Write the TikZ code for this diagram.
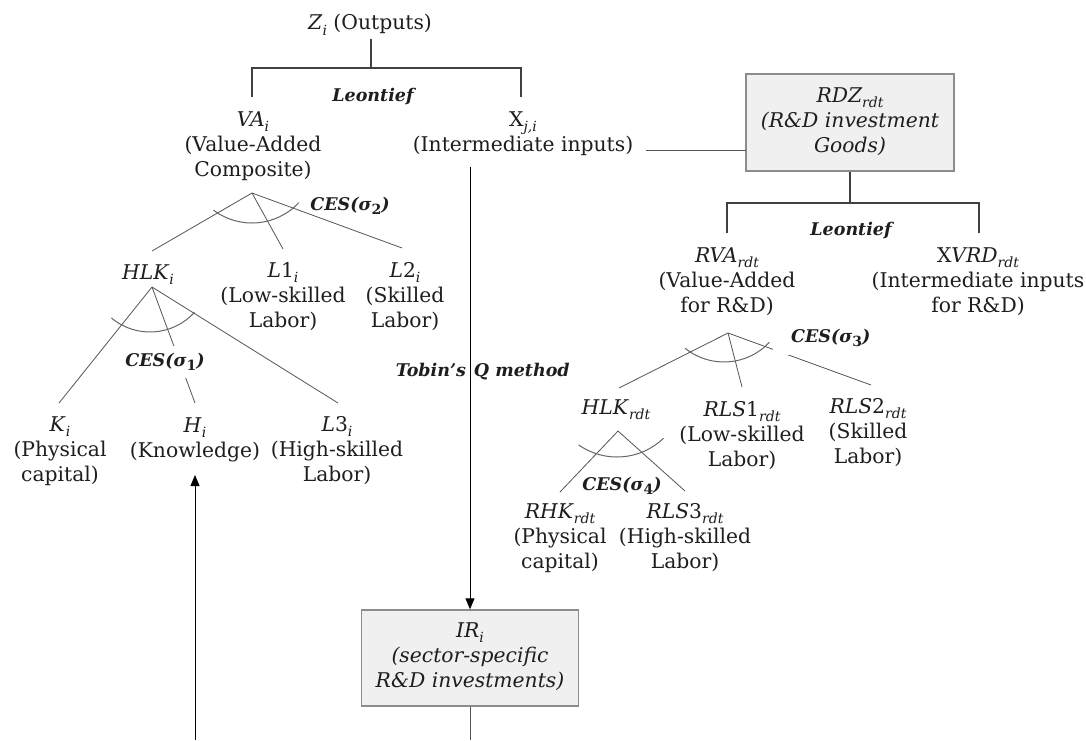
\documentclass[tikz,border=0pt]{standalone}
\usepackage{fontspec}
\setmainfont{DejaVu Serif}
\usetikzlibrary{arrows.meta}
\definecolor{lnc}{HTML}{555555}
\definecolor{barc}{HTML}{404040}
\definecolor{boxfill}{HTML}{F0F0F0}
\definecolor{boxdraw}{HTML}{8C8C8C}
\definecolor{txtc}{HTML}{1E1E1E}
\newcommand\myfs{\fontsize{20.3pt}{25pt}\selectfont}
\newcommand\mylb{\fontsize{17.5pt}{21pt}\selectfont\bfseries\itshape}
\newcommand\stx{\rule[-0.27em]{0pt}{1.0em}}
\newcommand\sbx[1]{\raisebox{-0.25em}{\fontsize{14pt}{14pt}\selectfont #1}}
\newcommand\vv[2]{\textit{#1}\sbx{\textit{#2}}}
\begin{document}
\begin{tikzpicture}[x=1pt,y=-1pt,
 txt/.style={font=\myfs, text=txtc, inner sep=0pt, align=center},
 lbl/.style={font=\mylb, text=txtc, inner sep=0pt},
 cover/.style={lbl, fill=white, inner xsep=2pt, inner ysep=6.5pt},
 tree/.style={draw=lnc, line width=0.8pt},
 bar/.style={draw=barc, line width=1.1pt},
 arr/.style={draw=black, line width=0.9pt, -{Triangle[length=11pt,width=9pt]}},
 arcln/.style={draw=black!60, line width=1.0pt},
 bx/.style={draw=boxdraw, fill=boxfill, line width=1.4pt, align=center, font=\myfs\itshape, text=txtc, inner sep=0pt}]
\useasboundingbox (0,0) rectangle (1086,740);
\fill[white] (0,0) rectangle (1086,740);

% coordinates
\coordinate (zB) at (371,39);
\coordinate (zJ) at (371,68);
\coordinate (vaUp) at (252,97);
\coordinate (xUp) at (521,97);
\coordinate (xOut) at (646,150);
\coordinate (rdzIn) at (746,150);
\coordinate (xDn) at (470,167);
\coordinate (rdzJ) at (850,203);
\coordinate (rvaUp) at (727,233);
\coordinate (xvUp) at (979,233);
\coordinate (vaA) at (252,193);
\coordinate (hlkIn) at (152,251);
\coordinate (l1In) at (283,249);
\coordinate (l2In) at (402,248);
\coordinate (hlkA) at (152,287);
\coordinate (kIn) at (59,403);
\coordinate (hIn) at (195,403);
\coordinate (l3In) at (338,403);
\coordinate (rvaA) at (728,333);
\coordinate (hlkrIn) at (619,388);
\coordinate (rls1In) at (742,387);
\coordinate (rls2In) at (871,385);
\coordinate (hlkrA) at (618,431);
\coordinate (rhkIn) at (560,492);
\coordinate (rls3In) at (685,491);
\coordinate (hBot) at (195,740);
\coordinate (hTip) at (195,475);
\coordinate (irBot) at (470,740);

% text nodes
\node[txt] (z) at (370,25) {\stx\vv{Z}{i} (Outputs)};
\node[txt] (va) at (253,147) {\stx\vv{VA}{i}\\\stx(Value-Added\\\stx Composite)};
\node[txt] (xji) at (523,134.5) {\stx X\sbx{\textit{j,i}}\\\stx(Intermediate inputs)};
\node[bx, minimum width=208pt, minimum height=97pt] (rdz) at (850,122.5) {\stx\vv{RDZ}{rdt}\\\stx(R\&D investment\\\stx Goods)};
\node[txt] (rva) at (727,283) {\stx\vv{RVA}{rdt}\\\stx(Value-Added\\\stx for R\&D)};
\node[txt] (xvrd) at (978,283) {\stx X\textit{VRD}\sbx{\textit{rdt}}\\\stx(Intermediate inputs\\\stx for R\&D)};
\node[txt] (hlk) at (148,275) {\stx\vv{HLK}{i}};
\node[txt] (l1) at (283,298) {\stx\textit{L}1\sbx{\textit{i}}\\\stx(Low-skilled\\\stx Labor)};
\node[txt] (l2) at (405,298) {\stx\textit{L}2\sbx{\textit{i}}\\\stx(Skilled\\\stx Labor)};
\node[txt] (k) at (60,452) {\stx\vv{K}{i}\\\stx(Physical\\\stx capital)};
\node[txt] (h) at (195,440) {\stx\vv{H}{i}\\\stx(Knowledge)};
\node[txt] (l3) at (337,452) {\stx\textit{L}3\sbx{\textit{i}}\\\stx(High-skilled\\\stx Labor)};
\node[txt] (hlkr) at (616,410) {\stx\vv{HLK}{rdt}};
\node[txt] (rls1) at (742,437) {\stx\textit{RLS}1\sbx{\textit{rdt}}\\\stx(Low-skilled\\\stx Labor)};
\node[txt] (rls2) at (868,434) {\stx\textit{RLS}2\sbx{\textit{rdt}}\\\stx(Skilled\\\stx Labor)};
\node[txt] (rhk) at (560,539) {\stx\vv{RHK}{rdt}\\\stx(Physical\\\stx capital)};
\node[txt] (rls3) at (685,539) {\stx\textit{RLS}3\sbx{\textit{rdt}}\\\stx(High-skilled\\\stx Labor)};
\node[bx, minimum width=217pt, minimum height=96pt] (ir) at (470,658) {\stx\vv{IR}{i}\\\stx(sector-specific\\\stx R\&D investments)};

% connectors
\draw[bar] (zB) -- (zJ);
\draw[bar] (vaUp) |- (zJ) -| (xUp);
\draw[tree] (xOut) -- (rdzIn);
\draw[arr] (xDn) -- (ir.north);
\draw[bar] (rdz.south) -- (rdzJ);
\draw[bar] (rvaUp) |- (rdzJ) -| (xvUp);
\draw[tree] (vaA) -- (hlkIn);
\draw[tree] (vaA) -- (l1In);
\draw[tree] (vaA) -- (l2In);
\draw[tree] (hlkA) -- (kIn);
\draw[tree] (hlkA) -- (hIn);
\draw[tree] (hlkA) -- (l3In);
\draw[tree] (rvaA) -- (hlkrIn);
\draw[tree] (rvaA) -- (rls1In);
\draw[tree] (rvaA) -- (rls2In);
\draw[tree] (hlkrA) -- (rhkIn);
\draw[tree] (hlkrA) -- (rls3In);
\draw[tree] (ir.south) -- (irBot);
\draw[arr] (hBot) -- (hTip);

% CES arcs
\draw[arcln] (252,159) ++(233:64pt) arc[start angle=233, end angle=317, radius=64pt];
\draw[arcln] (150,272) ++(230:60pt) arc[start angle=230, end angle=318, radius=60pt];
\draw[arcln] (724,300) ++(231:62pt) arc[start angle=231, end angle=317, radius=62pt];
\draw[arcln] (617,390) ++(235:67pt) arc[start angle=235, end angle=314, radius=67pt];

% labels
\node[lbl] (leo1) at (373,97) {Leontief};
\node[lbl] (leo2) at (851,231) {Leontief};
\node[lbl] (ces2) at (350,206) {\stx CES(σ\sbx{\upshape 2})};
\node[cover] (ces1) at (165,362) {\stx CES(σ\sbx{\upshape 1})};
\node[cover, anchor=west, inner ysep=8pt] (ces3) at (773,338) {\hspace{16pt}\stx CES(σ\sbx{\upshape 3})};
\node[lbl] (ces4) at (622,486) {\stx CES(σ\sbx{\upshape 4})};
\node[lbl] (tobin) at (470,372) {\makebox[0pt][r]{Tobin’s}\hspace{8pt}\makebox[0pt][l]{Q method}};
\end{tikzpicture}
\end{document}
